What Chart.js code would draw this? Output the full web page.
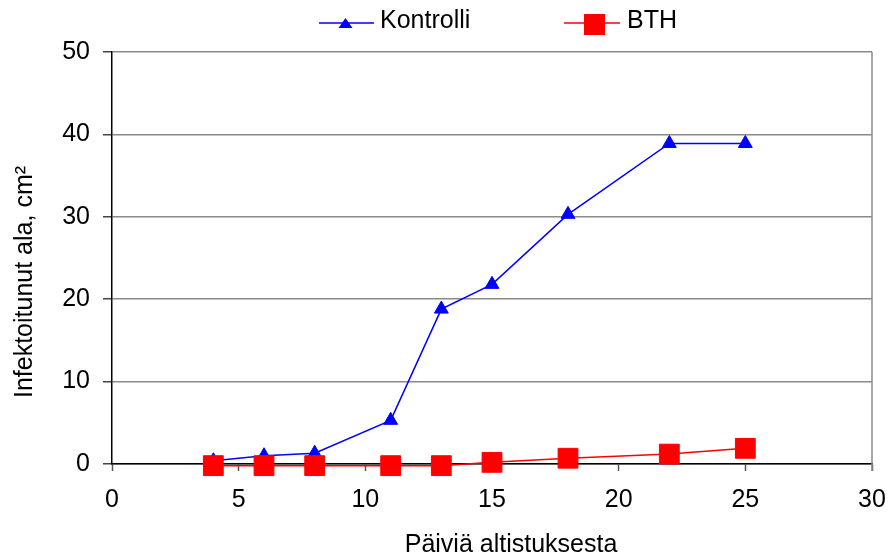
<!DOCTYPE html>
<html>
<head>
<meta charset="utf-8">
<script src="https://cdn.jsdelivr.net/npm/chart.js@4/dist/chart.umd.min.js"></script>
<style>
  html, body { margin: 0; padding: 0; background: #fff; }
  #wrap { width: 893px; height: 558px; position: relative; }
</style>
</head>
<body>
<div id="wrap"><canvas id="c"></canvas></div>
<script>
// days after exposure
const days = [4, 6, 8, 11, 13, 15, 18, 22, 25];
const kontrolli = [0.4, 1.0, 1.3, 5.3, 18.8, 21.8, 30.3, 38.9, 38.9];
const bth = [-0.2, -0.2, -0.2, -0.2, -0.2, 0.2, 0.7, 1.2, 1.9];
const xTicks = [0, 5, 10, 15, 20, 25, 30];
const yTicks = [0, 10, 20, 30, 40, 50];
const xTitle = 'Päiviä altistuksesta';
const yTitle = 'Infektoitunut ala, cm²';

const FONT = 'Liberation Sans, Arial, sans-serif';

function toPoints(ys) {
  return days.map((d, i) => ({ x: d, y: ys[i] }));
}

// legend drawn by hand: line + marker + label, plus the axis titles
const textPlugin = {
  id: 'texts',
  afterDraw(chart) {
    const ctx = chart.ctx;
    const y = 23;
    ctx.save();
    ctx.font = '25px ' + FONT;
    ctx.textBaseline = 'alphabetic';

    ctx.strokeStyle = '#0000ff';
    ctx.lineWidth = 1.5;
    ctx.beginPath(); ctx.moveTo(319, y); ctx.lineTo(374, y); ctx.stroke();
    ctx.fillStyle = '#0000ff';
    ctx.beginPath();
    ctx.moveTo(345.5, y - 5); ctx.lineTo(352.5, y + 5); ctx.lineTo(338.5, y + 5);
    ctx.closePath(); ctx.fill();
    ctx.fillStyle = '#000';
    ctx.fillText('Kontrolli', 380, 28);

    ctx.strokeStyle = '#ff0000';
    ctx.beginPath(); ctx.moveTo(564, y); ctx.lineTo(620, y); ctx.stroke();
    ctx.fillStyle = '#ff0000';
    ctx.fillRect(584, 14, 21, 21);
    ctx.fillStyle = '#000';
    ctx.fillText('BTH', 627, 28);

    // axis titles
    ctx.textAlign = 'center';
    ctx.textBaseline = 'middle';
    ctx.fillText(xTitle, 511, 545);
    ctx.translate(25, 282);
    ctx.rotate(-Math.PI / 2);
    ctx.fillText(yTitle, 0, 0);
    ctx.restore();
  }
};

// right-hand frame line of the plot area
const framePlugin = {
  id: 'frame',
  beforeDatasetsDraw(chart) {
    const a = chart.chartArea, ctx = chart.ctx;
    ctx.save();
    ctx.strokeStyle = '#8a8a8a';
    ctx.lineWidth = 1.5;
    ctx.beginPath();
    ctx.moveTo(a.right, a.top);
    ctx.lineTo(a.right, a.bottom + 7);
    ctx.stroke();
    ctx.restore();
  }
};

new Chart(document.getElementById('c'), {
  type: 'line',
  data: {
    datasets: [
      {
        label: 'Kontrolli',
        data: toPoints(kontrolli),
        borderColor: '#0000ff',
        backgroundColor: '#0000ff',
        borderWidth: 1.5,
        pointStyle: 'triangle',
        pointRadius: 8,
        pointBorderWidth: 1,
        tension: 0,
        clip: false,
        order: 2
      },
      {
        label: 'BTH',
        data: toPoints(bth),
        borderColor: '#ff0000',
        backgroundColor: '#ff0000',
        borderWidth: 1.5,
        pointStyle: 'rect',
        pointRadius: 14,
        pointBorderWidth: 1,
        tension: 0,
        clip: false,
        order: 1
      }
    ]
  },
  options: {
    responsive: true,
    maintainAspectRatio: false,
    animation: false,
    events: [],
    layout: { padding: { top: 52, right: 21, left: 0, bottom: 0 } },
    plugins: {
      legend: { display: false },
      tooltip: { enabled: false }
    },
    scales: {
      x: {
        type: 'linear',
        min: 0, max: 30,
        afterBuildTicks(s) { s.ticks = xTicks.map(v => ({ value: v })); },
        afterFit(s) { s.height = 558 - 464; s.paddingRight = 0; s.paddingLeft = 0; },
        grid: { drawOnChartArea: false, tickLength: 7, tickColor: '#555', tickWidth: 1.5 },
        border: { color: '#000', width: 1.5 },
        ticks: { color: '#000', font: { family: FONT, size: 25 }, padding: 14, maxRotation: 0 }
      },
      y: {
        min: 0, max: 50,
        afterBuildTicks(s) { s.ticks = yTicks.map(v => ({ value: v })); },
        afterFit(s) { s.width = 112; },
        grid: { color: '#8a8a8a', lineWidth: 1.5, tickLength: 9, tickColor: '#444', tickWidth: 1.5 },
        border: { color: '#000', width: 1.5 },
        ticks: { color: '#000', font: { family: FONT, size: 25 }, padding: 13 }
      }
    }
  },
  plugins: [framePlugin, textPlugin]
});
</script>
</body>
</html>
